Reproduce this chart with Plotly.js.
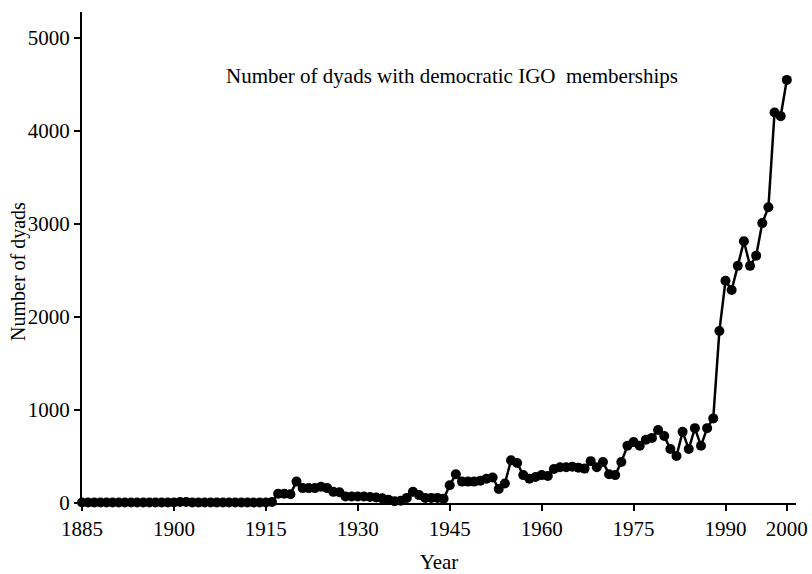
<!DOCTYPE html>
<html>
<head>
<meta charset="utf-8">
<script src="https://cdn.plot.ly/plotly-3.0.1.min.js"></script>
<style>html,body{margin:0;padding:0;background:#fff;}#chart{width:812px;height:574px;}</style>
</head>
<body>
<div id="chart"></div>
<script>
const years = [1885,1886,1887,1888,1889,1890,1891,1892,1893,1894,1895,1896,1897,1898,1899,
1900,1901,1902,1903,1904,1905,1906,1907,1908,1909,1910,1911,1912,1913,1914,1915,1916,1917,1918,1919,
1920,1921,1922,1923,1924,1925,1926,1927,1928,1929,1930,1931,1932,1933,1934,1935,1936,1937,1938,1939,
1940,1941,1942,1943,1944,1945,1946,1947,1948,1949,1950,1951,1952,1953,1954,1955,1956,1957,1958,1959,
1960,1961,1962,1963,1964,1965,1966,1967,1968,1969,1970,1971,1972,1973,1974,1975,1976,1977,1978,1979,
1980,1981,1982,1983,1984,1985,1986,1987,1988,1989,1990,1991,1992,1993,1994,1995,1996,1997,1998,1999,2000];

const dyads = [5,5,5,5,5,5,5,5,5,5,5,5,5,5,5,
5,10,10,5,5,5,5,5,5,5,5,5,5,5,5,5,10,100,100,95,
230,160,160,160,175,160,120,115,70,70,70,70,65,60,50,35,20,25,55,120,
85,55,55,55,45,190,310,230,230,230,240,260,275,150,210,460,430,300,260,280,
300,290,365,385,385,390,380,370,450,385,440,310,300,440,615,655,615,680,700,785,
720,580,505,765,580,805,615,805,910,1850,2390,2290,2550,2815,2550,2660,3010,3180,4200,4160,4550];

const xTicks = [1885,1900,1915,1930,1945,1960,1975,1990,2000];
const yTicks = [0,1000,2000,3000,4000,5000];
const chartTitle = 'Number of dyads with democratic IGO  memberships';
const xTitle = 'Year';
const yTitle = 'Number of dyads';

const serif = 'Liberation Serif, Times New Roman, serif';

const trace = {
  x: years, y: dyads, type: 'scatter', mode: 'lines+markers',
  line: {color: '#000', width: 2.5},
  marker: {color: '#000', size: 10},
  cliponaxis: false, showlegend: false, hoverinfo: 'x+y'
};

const layout = {
  width: 812, height: 574,
  paper_bgcolor: '#fff', plot_bgcolor: '#fff',
  margin: {l: 82, r: 16, t: 12, b: 71},
  font: {family: serif, color: '#000', size: 21},
  xaxis: {
    range: [1885, 2001.5], tickvals: xTicks, ticktext: xTicks.map(String),
    ticks: 'outside', ticklen: 6, tickwidth: 2, tickcolor: '#000',
    showline: true, linewidth: 2, linecolor: '#000',
    showgrid: false, zeroline: false,
    tickfont: {family: serif, size: 21, color: '#000'},
    title: {text: xTitle, font: {family: serif, size: 21, color: '#000'}, standoff: 20}
  },
  yaxis: {
    range: [0, 5280], tickvals: yTicks, ticktext: yTicks.map(String),
    ticks: 'outside', ticklen: 6, tickwidth: 2, tickcolor: '#000',
    showline: true, linewidth: 2, linecolor: '#000',
    showgrid: false, zeroline: false,
    tickfont: {family: serif, size: 21, color: '#000'}
  },
  annotations: [{
    text: chartTitle, x: 1945.4, y: 4590, xref: 'x', yref: 'y',
    showarrow: false, font: {family: serif, size: 21, color: '#000'}
  }, {
    text: yTitle, x: 18, y: 272, xref: 'paper', yref: 'paper', textangle: -90,
    showarrow: false, font: {family: serif, size: 20, color: '#000'}
  }]
};
// convert pixel position of y-title into paper coords
layout.annotations[1].x = (18 - 82) / (812 - 82 - 16);
layout.annotations[1].y = (574 - 71 - 272) / (574 - 71 - 12);
layout.annotations[1].xanchor = 'center';
layout.annotations[1].yanchor = 'middle';

Plotly.newPlot('chart', [trace], layout, {displayModeBar: false, staticPlot: true});
</script>
</body>
</html>
